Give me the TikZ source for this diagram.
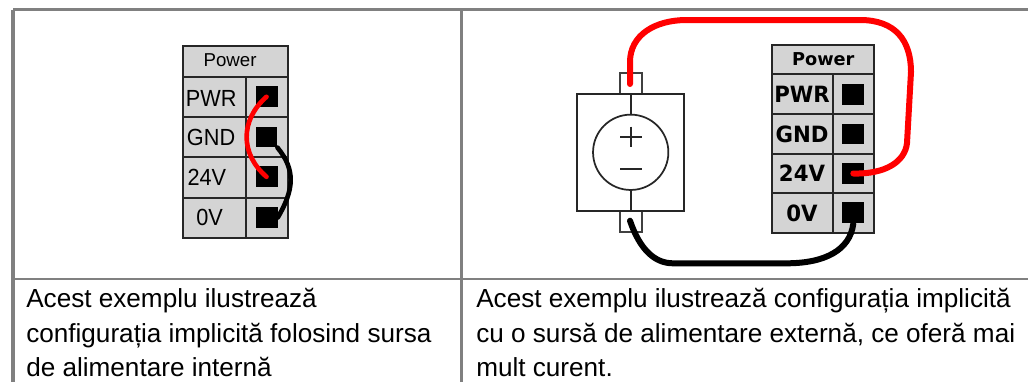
\documentclass[tikz,border=0pt]{standalone}
\usepackage{fontspec}
\setmainfont{Liberation Sans}
\newfontfamily\narrowsans[FakeStretch=0.93]{Liberation Sans}
\newfontfamily\dejabold[FakeStretch=0.95]{DejaVu Sans Bold}
\newfontfamily\dejaplain{DejaVu Sans Bold}
\tikzset{
  frameline/.style={draw=black!50,line width=1.8pt},
  cell/.style={draw=black!85,fill=black!17,line width=1.3pt},
  pad/.style={fill=black,inner sep=0pt,minimum width=16.5pt,minimum height=16pt},
  lab/.style={anchor=base west,inner sep=0pt,font=\fontsize{17.5}{17.5}\narrowsans},
  labhead/.style={anchor=base west,inner sep=0pt,font=\fontsize{14}{14}\selectfont},
  labb/.style={anchor=base,inner sep=0pt,font=\fontsize{16.8}{16.8}\dejabold},
  labbhead/.style={anchor=base,inner sep=0pt,font=\fontsize{13.3}{13.3}\dejaplain},
  caption/.style={anchor=base west,inner sep=0pt,font=\fontsize{19.6}{19.6}\selectfont},
  wirea/.style={line width=3.5pt,line cap=round},
  wireb/.style={line width=4.5pt,line cap=round}
}
\definecolor{wirered}{RGB}{255,0,0}

\begin{document}
\begin{tikzpicture}[x=0.75pt,y=-0.75pt]
\useasboundingbox (0,0) rectangle (1028,382);
% table
\draw[frameline,line width=2.4pt] (13,9.5) -- (13,382);
\draw[frameline] (1028,9.5) -- (13,9.5);
\draw[frameline] (461.5,9.5) -- (461.5,382);
\draw[frameline] (13,279) -- (1028,279);
% left module
\draw[cell] (182.7,46) rectangle (287.7,76.7);
\draw[cell] (182.7,76.7) rectangle (246,117.3);
\draw[cell] (246,76.7) rectangle (287.7,117.3);
\draw[cell] (182.7,117.3) rectangle (246,157.3);
\draw[cell] (246,117.3) rectangle (287.7,157.3);
\draw[cell] (182.7,157.3) rectangle (246,197.7);
\draw[cell] (246,157.3) rectangle (287.7,197.7);
\draw[cell] (182.7,197.7) rectangle (246,237.7);
\draw[cell] (246,197.7) rectangle (287.7,237.7);
\node[labhead] (powerL) at (203.3,66.7) {Power};
\node[lab] (pwrL) at (185.7,106) {PWR};
\node[lab] (gndL) at (186.7,145.7) {GND};
\node[lab] (vccL) at (187.3,185.7) {24V};
\node[lab] (zeroL) at (196,225.7) {0V};
\node[pad] (padpwrL) at (266.5,96.8) {};
\node[pad,minimum width=16pt,minimum height=15pt] (padgndL) at (266.5,137.3) {};
\node[pad] (padvccL) at (266.5,176.8) {};
\node[pad] (padzeroL) at (266.5,217.5) {};
\draw[wirea,wirered] (padpwrL.center) .. controls (240,120) and (240,154) .. (padvccL.center);
\draw[wirea,black] (padgndL.south east) .. controls (296,170) and (294,190) .. (padzeroL.east);
% source
\draw[cell,fill=white,draw=black!75] (620,72.7) rectangle (641.7,94);
\draw[cell,fill=white,draw=black!75] (620,210.7) rectangle (641.7,232);
\draw[cell,fill=white] (577.3,94) rectangle (684,210.7);
\node[circle,draw=black!85,line width=1.3pt,fill=white,inner sep=0pt,minimum size=56.5pt] (source) at (630.7,152.3) {};
\coordinate (plustop) at (630.7,94);
\coordinate (minusbot) at (630.7,210.7);
\draw[black!85,line width=1.3pt] (plustop) -- (source.north);
\draw[black!85,line width=1.3pt] (source.south) -- (minusbot);
\draw[black!85,line width=1.2pt] (620,136.7) -- (641.7,136.7);
\draw[black!85,line width=1.2pt] (630.7,126.7) -- (630.7,146.7);
\draw[black!85,line width=1.2pt] (620,168.7) -- (641.7,168.7);
% right module
\draw[cell] (771.7,44.7) rectangle (873.7,74);
\draw[cell] (771.7,74) rectangle (832.7,113.7);
\draw[cell] (832.7,74) rectangle (873.7,113.7);
\draw[cell] (771.7,113.7) rectangle (832.7,154);
\draw[cell] (832.7,113.7) rectangle (873.7,154);
\draw[cell] (771.7,154) rectangle (832.7,193.3);
\draw[cell] (832.7,154) rectangle (873.7,193.3);
\draw[cell] (771.7,193.3) rectangle (832.7,232.7);
\draw[cell] (832.7,193.3) rectangle (873.7,232.7);
\node[labbhead] (powerR) at (823.3,65) {Power};
\node[labb] (pwrR) at (802,102.7) {PWR};
\node[labb] (gndR) at (802,142.7) {GND};
\node[labb] (vccR) at (802,181.7) {24V};
\node[labb] (zeroR) at (802,221.3) {0V};
\node[pad] (padpwrR) at (853.3,94.5) {};
\node[pad,minimum height=15pt] (padgndR) at (853.3,134) {};
\node[pad] (padvccR) at (853.3,173.5) {};
\node[pad] (padzeroR) at (853.3,212.8) {};
% wires
\coordinate (srcplus) at (630,84);
\coordinate (srcminus) at (630,220.7);
\draw[wireb,wirered] (srcplus) -- (630,62) .. controls (630,35) and (655,20) .. (686.7,20)
  -- (860,20) .. controls (895,20) and (911,40) .. (911,72)
  -- (907,143) .. controls (905,162) and (885,174.3) .. (padvccR.center);
\draw[wireb,black] (srcminus) .. controls (640,250) and (655,263.3) .. (673,263.3)
  -- (786.7,263.3) .. controls (825,263.3) and (850,250) .. (padzeroR.south);
% captions
\node[caption] (capLa) at (26,307) {Acest exemplu ilustrează};
\node[caption] (capLb) at (26,342.5) {configurația implicită folosind sursa};
\node[caption] (capLc) at (26,376.5) {de alimentare internă};
\node[caption] (capRa) at (476,307) {Acest exemplu ilustrează configurația implicită};
\node[caption] (capRb) at (476,342.5) {cu o sursă de alimentare externă, ce oferă mai};
\node[caption] (capRc) at (476,376.5) {mult curent.};
\end{tikzpicture}
\end{document}
